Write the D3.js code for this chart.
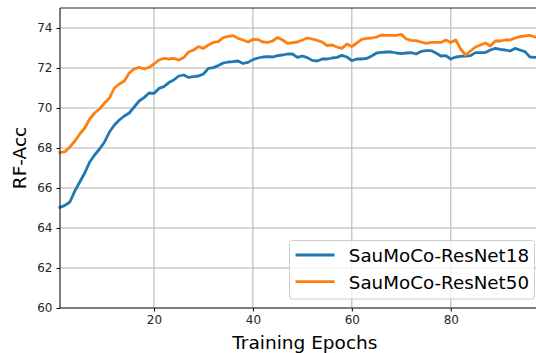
<!DOCTYPE html>
<html>
<head>
<meta charset="utf-8">
<script src="https://cdn.jsdelivr.net/npm/d3@7"></script>
<style>
  body { margin: 0; background: #fff; }
  svg { display: block; font-family: "DejaVu Sans", sans-serif; }
</style>
</head>
<body>
<svg id="chart" width="536" height="353"></svg>
<script>
// ===============================
// Dades
// ===============================
const epochs = d3.range(1, 99);

const resnet18 = [
  65.03, 65.13, 65.3, 65.85, 66.3, 66.75, 67.3, 67.65, 67.95, 68.3,
  68.8, 69.15, 69.4, 69.6, 69.75, 70.05, 70.35, 70.52, 70.75, 70.73,
  70.98, 71.07, 71.27, 71.4, 71.6, 71.65, 71.53, 71.57, 71.6, 71.7,
  71.98, 72.02, 72.12, 72.25, 72.3, 72.32, 72.35, 72.23, 72.28, 72.42,
  72.5, 72.55, 72.57, 72.55, 72.62, 72.65, 72.7, 72.7, 72.53, 72.6,
  72.52, 72.38, 72.35, 72.45, 72.45, 72.5, 72.53, 72.63, 72.55, 72.37,
  72.45, 72.45, 72.48, 72.6, 72.75, 72.78, 72.8, 72.8, 72.75, 72.72,
  72.75, 72.77, 72.7, 72.83, 72.87, 72.87, 72.75, 72.6, 72.62, 72.45,
  72.55, 72.58, 72.6, 72.62, 72.77, 72.77, 72.77, 72.9, 72.98, 72.93,
  72.9, 72.85, 72.98, 72.9, 72.82, 72.55, 72.53, 72.53
];

const resnet50 = [
  67.77, 67.82, 68.05, 68.35, 68.7, 69.0, 69.45, 69.75, 69.95, 70.25,
  70.5, 71.0, 71.2, 71.35, 71.75, 71.95, 72.03, 71.95, 72.03, 72.2,
  72.4, 72.48, 72.45, 72.48, 72.4, 72.52, 72.8, 72.9, 73.07, 72.98,
  73.15, 73.28, 73.32, 73.52, 73.58, 73.62, 73.48, 73.4, 73.3, 73.43,
  73.42, 73.3, 73.28, 73.35, 73.53, 73.4, 73.23, 73.27, 73.3, 73.4,
  73.5, 73.45, 73.38, 73.3, 73.12, 73.15, 73.05, 72.98, 73.2, 73.07,
  73.25, 73.43, 73.48, 73.5, 73.55, 73.65, 73.63, 73.63, 73.63, 73.68,
  73.45, 73.38, 73.37, 73.3, 73.23, 73.28, 73.28, 73.28, 73.4, 73.27,
  73.4, 72.95, 72.65, 72.85, 73.05, 73.15, 73.25, 73.1, 73.35, 73.35,
  73.4, 73.4, 73.5, 73.57, 73.6, 73.63, 73.55, 73.5
];

const seriesNames = ["SauMoCo-ResNet18", "SauMoCo-ResNet50"];
const seriesColors = ["#1f77b4", "#ff7f0e"];
const xTicks = [20, 40, 60, 80];
const yTicks = [60, 62, 64, 66, 68, 70, 72, 74];

// ===============================
// Escales
// ===============================
const svg = d3.select("#chart");
const plotLeft = 60, plotRight = 549.7, plotTop = 8, plotBottom = 308;

const x = d3.scaleLinear().domain([1, 100]).range([plotLeft, plotRight]);
const y = d3.scaleLinear().domain([60, 75]).range([plotBottom, plotTop]);

// graella
svg.append("g")
  .selectAll("line")
  .data(xTicks)
  .enter()
  .append("line")
  .attr("x1", d => x(d)).attr("x2", d => x(d))
  .attr("y1", plotTop).attr("y2", plotBottom)
  .attr("stroke", "#b0b0b0")
  .attr("stroke-width", 1);

svg.append("g")
  .selectAll("line")
  .data(yTicks)
  .enter()
  .append("line")
  .attr("x1", plotLeft).attr("x2", plotRight)
  .attr("y1", d => y(d)).attr("y2", d => y(d))
  .attr("stroke", "#b0b0b0")
  .attr("stroke-width", 1);

// línies
const line = d3.line()
  .x((d, i) => x(epochs[i]))
  .y(d => y(d));

[resnet18, resnet50].forEach((vals, i) => {
  svg.append("path")
    .datum(vals)
    .attr("d", line)
    .attr("fill", "none")
    .attr("stroke", seriesColors[i])
    .attr("stroke-width", 2.8)
    .attr("stroke-linejoin", "round")
    .attr("stroke-linecap", "square");
});

// eixos
const xAxis = svg.append("g")
  .attr("transform", `translate(0, ${plotBottom})`)
  .call(d3.axisBottom(x).tickValues(xTicks).tickSize(3.5).tickPadding(4));

const yAxis = svg.append("g")
  .attr("transform", `translate(${plotLeft}, 0)`)
  .call(d3.axisLeft(y).tickValues(yTicks).tickSize(3.5).tickPadding(4));

[xAxis, yAxis].forEach(ax => {
  ax.select(".domain").remove();
  ax.selectAll("line").attr("stroke", "#000").attr("stroke-width", 1);
  ax.selectAll("text")
    .style("font-family", "DejaVu Sans")
    .style("font-size", "12px")
    .attr("fill", "#262626");
});

// marc
svg.append("line")
  .attr("x1", plotLeft).attr("x2", plotLeft).attr("y1", plotTop).attr("y2", plotBottom)
  .attr("stroke", "#262626").attr("stroke-width", 1.2);
svg.append("line")
  .attr("x1", plotLeft).attr("x2", plotRight).attr("y1", plotBottom).attr("y2", plotBottom)
  .attr("stroke", "#262626").attr("stroke-width", 1.2);
svg.append("line")
  .attr("x1", plotLeft).attr("x2", plotRight).attr("y1", plotTop).attr("y2", plotTop)
  .attr("stroke", "#262626").attr("stroke-width", 1.2);

// títols d'eixos
svg.append("text")
  .attr("x", (plotLeft + plotRight) / 2)
  .attr("y", 348.5)
  .attr("text-anchor", "middle")
  .text("Training Epochs")
  .style("font-size", "18.5px")
  .attr("fill", "#000");

svg.append("text")
  .attr("transform", `translate(26, 158) rotate(-90)`)
  .attr("text-anchor", "middle")
  .text("RF-Acc")
  .style("font-size", "18.5px")
  .attr("fill", "#000");

// llegenda
const legend = svg.append("g")
  .attr("transform", "translate(289.5, 240.5)");

legend.append("rect")
  .attr("width", 245)
  .attr("height", 58.5)
  .attr("rx", 3)
  .attr("fill", "white")
  .attr("fill-opacity", 0.8)
  .attr("stroke", "#cccccc");

const items = legend.selectAll("g.item")
  .data(seriesNames)
  .enter()
  .append("g")
  .attr("class", "item")
  .attr("transform", (d, i) => `translate(0, ${14.5 + i * 26.7})`);

items.append("line")
  .attr("x1", 6).attr("x2", 45)
  .attr("stroke", (d, i) => seriesColors[i])
  .attr("stroke-width", 2.8);

items.append("text")
  .attr("x", 59.3)
  .attr("y", 7.3)
  .text(d => d)
  .style("font-size", "18.3px")
  .attr("fill", "#000");
</script>
</body>
</html>
